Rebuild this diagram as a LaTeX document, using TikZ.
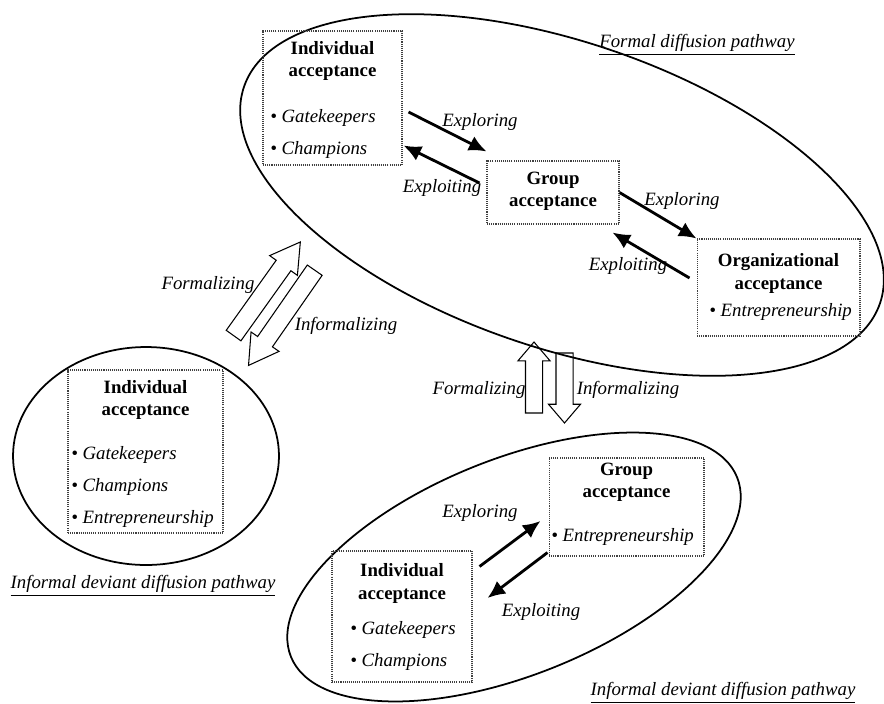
\documentclass[tikz,border=0pt]{standalone}
\usepackage{fontspec}
\setmainfont{Liberation Serif}
\usepackage{tikz}
\usetikzlibrary{shapes.geometric, shapes.arrows, arrows.meta, positioning, calc}
\tikzstyle{pathway} = [draw, ellipse, line width=1pt, inner sep=0pt]
\tikzstyle{stage} = [draw=black!75, rectangle, dash pattern=on 0.6pt off 0.6pt, line width=0.6pt, inner sep=0pt]
\tikzstyle{title} = [font=\fontsize{10.7}{12.6}\selectfont\bfseries, align=center, inner sep=0pt]
\tikzstyle{bullets} = [font=\fontsize{10.7}{18.3}\selectfont\itshape, align=left, anchor=west, inner sep=0pt]
\tikzstyle{lbl} = [font=\fontsize{10.7}{12.6}\selectfont\itshape, inner sep=0pt]
\tikzstyle{arrow} = [line width=1.6pt, -{Latex[length=10pt,width=9pt]}]
\tikzstyle{block} = [draw, single arrow, line width=0.6pt, inner xsep=0pt, single arrow head indent=0pt]
\tikzstyle{blockdiag} = [block, inner ysep=0.17cm, single arrow head extend=0.16cm, single arrow tip angle=61]
\tikzstyle{blockvert} = [block, inner ysep=0.16cm, single arrow head extend=0.15cm, single arrow tip angle=81]

\begin{document}
\begin{tikzpicture}[x=0.02cm, y=-0.02cm]
    \useasboundingbox (0,0) rectangle (884,703);

    % pathways
    \node (formal) [pathway, minimum width=13.44cm, minimum height=6.12cm, rotate=-18.8] at (562,195) {};
    \node (deviantA) [pathway, minimum width=5.32cm, minimum height=4.36cm] at (146,456) {};
    \node (deviantB) [pathway, minimum width=9.62cm, minimum height=4.32cm, rotate=21.9] at (514,567) {};

    \node (formallbl) [lbl] at (697,45) {\underline{Formal diffusion pathway}};
    \node (deviantAlbl) [lbl] at (143,586) {\underline{Informal deviant diffusion pathway}};
    \node (deviantBlbl) [lbl] at (723,693) {\underline{Informal deviant diffusion pathway}};

    % formal pathway
    \node (indF) [stage, minimum width=2.78cm, minimum height=2.68cm] at (332.5,98) {};
    \node (indFt) [title] at (332.5,61) {Individual\\acceptance};
    \node (indFb) [bullets] at (270,134) {\textbullet\ Gatekeepers\\\textbullet\ Champions};

    \node (grpF) [stage, minimum width=2.64cm, minimum height=1.26cm] at (553,192.5) {};
    \node (grpFt) [title] at (553,191) {Group\\acceptance};

    \node (orgF) [stage, minimum width=3.26cm, minimum height=1.94cm] at (778.5,287.5) {};
    \node (orgFt) [title] at (778.5,273.5) {Organizational\\acceptance};
    \node (orgFb) [bullets] at (709,312) {\textbullet\ Entrepreneurship};

    \draw [arrow] ([shift={(6,14)}]indF.east) -- ([shift={(0,-9)}]grpF.north west);
    \draw [arrow] ([shift={(-7,-9.5)}]grpF.west) -- ([shift={(1,-20)}]indF.south east);
    \draw [arrow] (grpF.east) -- (orgF.north west);
    \draw [arrow] ([shift={(-7,-9.5)}]orgF.west) -- ([shift={(-7,8)}]grpF.south east);

    \node (explF1) [lbl] at (480,122) {Exploring};
    \node (exploitF1) [lbl] at (442,188) {Exploiting};
    \node (explF2) [lbl] at (682,201) {Exploring};
    \node (exploitF2) [lbl] at (628,266) {Exploiting};

    % informal deviant pathway (left)
    \node (indA) [stage, minimum width=3.1cm, minimum height=3.26cm] at (145.5,451.5) {};
    \node (indAt) [title] at (145.5,400) {Individual\\acceptance};
    \node (indAb) [bullets] at (71,487) {\textbullet\ Gatekeepers\\\textbullet\ Champions\\\textbullet\ Entrepreneurship};

    % informal deviant pathway (bottom)
    \node (indB) [stage, minimum width=2.8cm, minimum height=2.62cm] at (402,616.5) {};
    \node (indBt) [title] at (402,583.5) {Individual\\acceptance};
    \node (indBb) [bullets] at (350,646) {\textbullet\ Gatekeepers\\\textbullet\ Champions};

    \node (grpB) [stage, minimum width=3.1cm, minimum height=1.96cm] at (626.5,507) {};
    \node (grpBt) [title] at (626.5,482.5) {Group\\acceptance};
    \node (grpBb) [bullets] at (551,537) {\textbullet\ Entrepreneurship};

    \draw [arrow] ([shift={(7,16)}]indB.north east) -- ([shift={(-8,14)}]grpB.west);
    \draw [arrow] ([shift={(-1,-4)}]grpB.south west) -- ([shift={(15,-18.5)}]indB.east);

    \node (explB) [lbl] at (480,513) {Exploring};
    \node (exploitB) [lbl] at (541,612) {Exploiting};

    % formalizing / informalizing
    \node (formA) [blockdiag, minimum height=2.3cm, rotate=54.5] at (262.5,295) {};
    \node (informA) [blockdiag, minimum height=2.32cm, rotate=235.2] at (286,311.5) {};
    \node (formB) [blockvert, minimum height=1.42cm, rotate=90] at (534,382.5) {};
    \node (informB) [blockvert, minimum height=1.4cm, rotate=-90] at (564.5,383) {};

    \node (formAlbl) [lbl] at (208,285) {Formalizing};
    \node (informAlbl) [lbl] at (346,326) {Informalizing};
    \node (formBlbl) [lbl] at (479,390) {Formalizing};
    \node (informBlbl) [lbl] at (628,390) {Informalizing};
\end{tikzpicture}
\end{document}
